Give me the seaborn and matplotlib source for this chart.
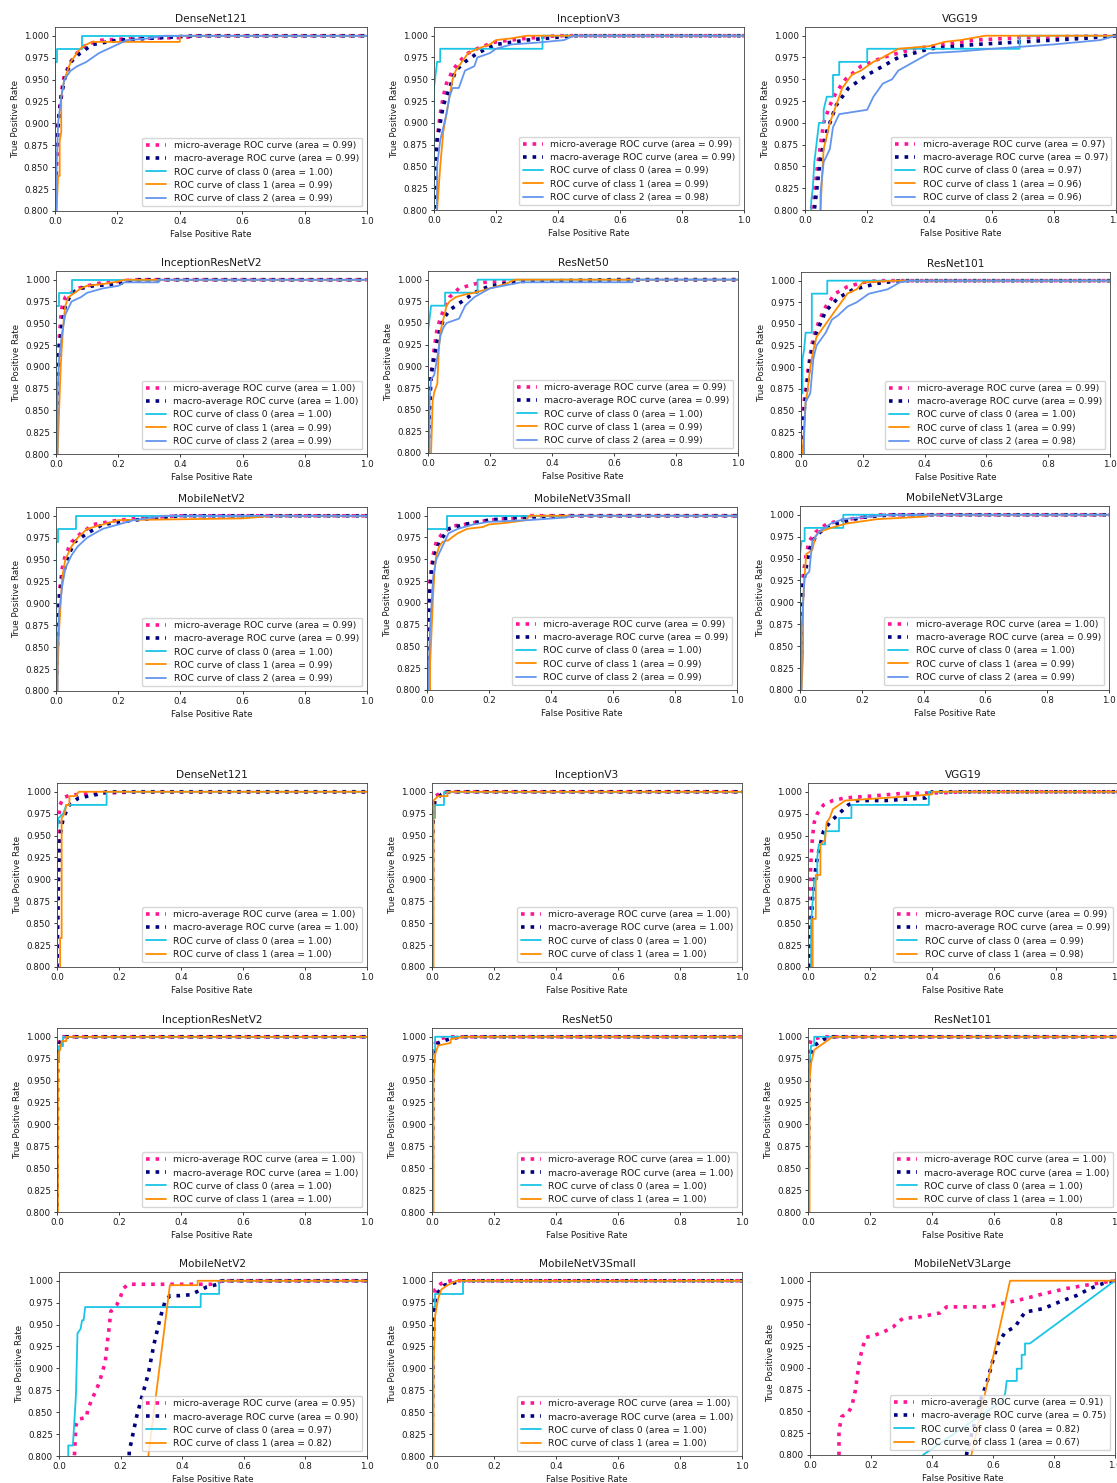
import numpy as np
import pandas as pd
import seaborn as sns
import matplotlib.pyplot as plt

# model names, same order for the 3-class block (top) and 2-class block (bottom)
titles = ["DenseNet121", "InceptionV3", "VGG19",
          "InceptionResNetV2", "ResNet50", "ResNet101",
          "MobileNetV2", "MobileNetV3Small", "MobileNetV3Large"]

# ---- 3-class models: (fpr, tpr) vertices ----
densenet121_3 = {
    "micro": [(0, 0), (0, 0.8), (0.005, 0.85), (0.01, 0.9), (0.02, 0.935), (0.03, 0.955), (0.05, 0.97), (0.07, 0.98), (0.1, 0.99), (0.15, 0.995), (0.25, 0.997), (0.42, 0.998), (0.45, 1.0), (1, 1)],
    "macro": [(0, 0), (0, 0.8), (0.005, 0.87), (0.01, 0.9), (0.02, 0.93), (0.03, 0.95), (0.05, 0.97), (0.08, 0.98), (0.12, 0.99), (0.2, 0.995), (0.4, 0.999), (0.45, 1.0), (1, 1)],
    "c0": [(0, 0), (0, 0.97), (0.005, 0.97), (0.005, 0.985), (0.085, 0.985), (0.085, 1.0), (1, 1)],
    "c1": [(0.005, 0), (0.005, 0.8), (0.01, 0.84), (0.015, 0.84), (0.015, 0.88), (0.02, 0.89), (0.02, 0.93), (0.03, 0.95), (0.04, 0.96), (0.05, 0.97), (0.06, 0.975), (0.07, 0.98), (0.08, 0.985), (0.1, 0.99), (0.12, 0.993), (0.4, 0.993), (0.4, 1.0), (1, 1)],
    "c2": [(0, 0), (0.005, 0.85), (0.01, 0.9), (0.02, 0.93), (0.03, 0.95), (0.05, 0.96), (0.07, 0.965), (0.1, 0.97), (0.12, 0.975), (0.14, 0.98), (0.17, 0.985), (0.2, 0.99), (0.23, 0.995), (0.3, 0.997), (0.35, 1.0), (1, 1)],
}
inceptionv3_3 = {
    "micro": [(0, 0), (0, 0.8), (0.005, 0.85), (0.01, 0.88), (0.02, 0.91), (0.03, 0.93), (0.04, 0.945), (0.06, 0.96), (0.08, 0.97), (0.11, 0.98), (0.15, 0.987), (0.2, 0.993), (0.3, 0.997), (0.4, 1.0), (1, 1)],
    "macro": [(0, 0), (0, 0.8), (0.005, 0.85), (0.01, 0.88), (0.02, 0.9), (0.03, 0.92), (0.05, 0.94), (0.07, 0.96), (0.1, 0.97), (0.14, 0.98), (0.2, 0.99), (0.3, 0.995), (0.45, 1.0), (1, 1)],
    "c0": [(0, 0), (0, 0.94), (0.005, 0.955), (0.01, 0.97), (0.02, 0.97), (0.02, 0.985), (0.35, 0.985), (0.35, 1.0), (1, 1)],
    "c1": [(0.01, 0), (0.01, 0.8), (0.02, 0.85), (0.025, 0.87), (0.03, 0.89), (0.04, 0.91), (0.05, 0.93), (0.06, 0.95), (0.07, 0.96), (0.09, 0.97), (0.11, 0.98), (0.14, 0.985), (0.18, 0.99), (0.2, 0.995), (0.25, 0.997), (0.3, 1.0), (1, 1)],
    "c2": [(0.005, 0), (0.01, 0.85), (0.02, 0.88), (0.04, 0.91), (0.05, 0.93), (0.06, 0.94), (0.08, 0.94), (0.09, 0.95), (0.1, 0.96), (0.13, 0.965), (0.14, 0.975), (0.18, 0.98), (0.2, 0.985), (0.25, 0.99), (0.33, 0.992), (0.42, 0.995), (0.45, 1.0), (1, 1)],
}
vgg19_3 = {
    "micro": [(0.02, 0), (0.02, 0.8), (0.03, 0.82), (0.04, 0.85), (0.05, 0.875), (0.06, 0.9), (0.08, 0.92), (0.1, 0.935), (0.13, 0.95), (0.18, 0.965), (0.25, 0.975), (0.35, 0.985), (0.45, 0.99), (0.55, 0.995), (0.7, 0.998), (0.85, 0.999), (1, 1)],
    "macro": [(0.03, 0), (0.03, 0.8), (0.04, 0.83), (0.05, 0.86), (0.07, 0.89), (0.1, 0.92), (0.14, 0.94), (0.2, 0.955), (0.25, 0.965), (0.3, 0.975), (0.4, 0.985), (0.55, 0.99), (0.7, 0.993), (0.9, 0.997), (1, 1)],
    "c0": [(0.02, 0), (0.02, 0.81), (0.025, 0.825), (0.03, 0.855), (0.035, 0.87), (0.04, 0.885), (0.045, 0.9), (0.06, 0.9), (0.06, 0.915), (0.07, 0.93), (0.09, 0.93), (0.09, 0.955), (0.11, 0.955), (0.11, 0.97), (0.2, 0.97), (0.2, 0.985), (0.69, 0.985), (0.69, 1.0), (1, 1)],
    "c1": [(0.05, 0), (0.05, 0.8), (0.055, 0.84), (0.06, 0.87), (0.08, 0.9), (0.1, 0.92), (0.12, 0.94), (0.15, 0.955), (0.18, 0.96), (0.22, 0.97), (0.25, 0.975), (0.3, 0.985), (0.4, 0.988), (0.45, 0.993), (0.5, 0.995), (0.58, 1.0), (1, 1)],
    "c2": [(0.04, 0), (0.05, 0.82), (0.06, 0.855), (0.08, 0.87), (0.09, 0.895), (0.11, 0.91), (0.2, 0.915), (0.22, 0.93), (0.25, 0.945), (0.28, 0.95), (0.3, 0.96), (0.35, 0.97), (0.4, 0.98), (0.5, 0.982), (0.6, 0.985), (0.8, 0.99), (0.95, 0.995), (1, 1)],
}
inceptionresnetv2_3 = {
    "micro": [(0, 0), (0, 0.8), (0.005, 0.9), (0.01, 0.93), (0.015, 0.955), (0.02, 0.97), (0.03, 0.98), (0.05, 0.985), (0.07, 0.99), (0.1, 0.993), (0.14, 0.996), (0.2, 0.998), (0.25, 1.0), (1, 1)],
    "macro": [(0, 0), (0, 0.8), (0.005, 0.89), (0.01, 0.92), (0.02, 0.95), (0.03, 0.97), (0.05, 0.985), (0.08, 0.99), (0.12, 0.993), (0.2, 0.995), (0.25, 1.0), (1, 1)],
    "c0": [(0, 0), (0, 0.97), (0.01, 0.97), (0.01, 0.985), (0.05, 0.985), (0.05, 1.0), (1, 1)],
    "c1": [(0.005, 0), (0.005, 0.8), (0.01, 0.85), (0.015, 0.9), (0.02, 0.93), (0.025, 0.955), (0.03, 0.97), (0.04, 0.98), (0.06, 0.985), (0.08, 0.99), (0.1, 0.993), (0.15, 0.995), (0.2, 0.998), (0.22, 1.0), (1, 1)],
    "c2": [(0, 0), (0.005, 0.87), (0.01, 0.91), (0.02, 0.94), (0.03, 0.96), (0.05, 0.975), (0.08, 0.98), (0.1, 0.985), (0.15, 0.99), (0.2, 0.993), (0.22, 0.997), (0.33, 0.997), (0.33, 1.0), (1, 1)],
}
resnet50_3 = {
    "micro": [(0, 0), (0, 0.8), (0.005, 0.86), (0.01, 0.89), (0.02, 0.92), (0.03, 0.945), (0.05, 0.965), (0.07, 0.98), (0.1, 0.99), (0.15, 0.995), (0.2, 0.998), (0.57, 0.999), (0.6, 1.0), (1, 1)],
    "macro": [(0, 0), (0, 0.8), (0.005, 0.85), (0.01, 0.89), (0.02, 0.91), (0.03, 0.93), (0.05, 0.955), (0.07, 0.965), (0.11, 0.975), (0.15, 0.985), (0.2, 0.993), (0.3, 0.998), (0.6, 1.0), (1, 1)],
    "c0": [(0, 0), (0, 0.94), (0.005, 0.955), (0.01, 0.97), (0.055, 0.97), (0.055, 0.985), (0.16, 0.985), (0.16, 1.0), (1, 1)],
    "c1": [(0.01, 0), (0.01, 0.8), (0.015, 0.86), (0.02, 0.87), (0.03, 0.88), (0.035, 0.92), (0.04, 0.94), (0.05, 0.955), (0.06, 0.97), (0.07, 0.975), (0.09, 0.98), (0.12, 0.983), (0.15, 0.985), (0.2, 0.99), (0.25, 0.995), (0.28, 1.0), (1, 1)],
    "c2": [(0, 0), (0.005, 0.86), (0.01, 0.885), (0.02, 0.89), (0.03, 0.91), (0.04, 0.935), (0.05, 0.945), (0.06, 0.95), (0.1, 0.955), (0.12, 0.97), (0.15, 0.98), (0.2, 0.99), (0.3, 0.997), (0.66, 0.997), (0.66, 1.0), (1, 1)],
}
resnet101_3 = {
    "micro": [(0, 0), (0, 0.8), (0.005, 0.83), (0.01, 0.86), (0.02, 0.89), (0.03, 0.915), (0.04, 0.935), (0.06, 0.955), (0.08, 0.97), (0.11, 0.985), (0.15, 0.993), (0.2, 0.998), (0.25, 1.0), (1, 1)],
    "macro": [(0, 0), (0, 0.8), (0.005, 0.83), (0.01, 0.85), (0.02, 0.88), (0.03, 0.91), (0.05, 0.94), (0.08, 0.965), (0.12, 0.98), (0.17, 0.99), (0.25, 0.997), (0.32, 1.0), (1, 1)],
    "c0": [(0, 0), (0, 0.87), (0.005, 0.87), (0.005, 0.91), (0.01, 0.92), (0.015, 0.94), (0.035, 0.94), (0.035, 0.985), (0.085, 0.985), (0.085, 1.0), (1, 1)],
    "c1": [(0.005, 0), (0.005, 0.8), (0.01, 0.83), (0.015, 0.86), (0.02, 0.87), (0.03, 0.9), (0.04, 0.92), (0.05, 0.935), (0.08, 0.95), (0.1, 0.96), (0.13, 0.975), (0.15, 0.985), (0.18, 0.99), (0.2, 0.998), (0.3, 1.0), (1, 1)],
    "c2": [(0.005, 0), (0.01, 0.82), (0.015, 0.86), (0.03, 0.87), (0.04, 0.91), (0.05, 0.925), (0.08, 0.94), (0.1, 0.955), (0.12, 0.96), (0.15, 0.97), (0.18, 0.975), (0.22, 0.985), (0.28, 0.99), (0.32, 0.998), (0.35, 1.0), (1, 1)],
}
mobilenetv2_3 = {
    "micro": [(0, 0), (0, 0.8), (0.005, 0.87), (0.01, 0.91), (0.02, 0.94), (0.03, 0.955), (0.05, 0.97), (0.08, 0.98), (0.12, 0.99), (0.2, 0.995), (0.3, 0.998), (0.4, 1.0), (1, 1)],
    "macro": [(0, 0), (0, 0.8), (0.005, 0.86), (0.01, 0.9), (0.02, 0.93), (0.04, 0.955), (0.06, 0.97), (0.1, 0.98), (0.15, 0.99), (0.25, 0.995), (0.4, 1.0), (1, 1)],
    "c0": [(0, 0), (0, 0.97), (0.005, 0.97), (0.005, 0.985), (0.065, 0.985), (0.065, 1.0), (1, 1)],
    "c1": [(0.005, 0), (0.005, 0.82), (0.01, 0.87), (0.015, 0.9), (0.02, 0.93), (0.03, 0.95), (0.05, 0.965), (0.07, 0.975), (0.1, 0.985), (0.15, 0.99), (0.2, 0.995), (0.6, 0.997), (0.7, 1.0), (1, 1)],
    "c2": [(0, 0), (0.005, 0.85), (0.01, 0.89), (0.02, 0.92), (0.03, 0.94), (0.05, 0.955), (0.07, 0.965), (0.1, 0.975), (0.15, 0.985), (0.2, 0.99), (0.25, 0.995), (0.35, 1.0), (1, 1)],
}
mobilenetv3small_3 = {
    "micro": [(0, 0), (0, 0.8), (0.005, 0.89), (0.01, 0.93), (0.02, 0.955), (0.03, 0.97), (0.05, 0.98), (0.08, 0.988), (0.12, 0.99), (0.2, 0.995), (0.3, 0.998), (0.33, 1.0), (1, 1)],
    "macro": [(0, 0), (0, 0.8), (0.005, 0.88), (0.01, 0.92), (0.02, 0.95), (0.04, 0.97), (0.07, 0.985), (0.12, 0.99), (0.2, 0.995), (0.3, 0.998), (0.45, 1.0), (1, 1)],
    "c0": [(0, 0), (0, 0.985), (0.065, 0.985), (0.065, 1.0), (1, 1)],
    "c1": [(0.01, 0), (0.01, 0.83), (0.015, 0.87), (0.02, 0.91), (0.025, 0.94), (0.03, 0.955), (0.04, 0.965), (0.05, 0.97), (0.07, 0.972), (0.08, 0.975), (0.1, 0.98), (0.13, 0.985), (0.18, 0.987), (0.2, 0.99), (0.26, 0.992), (0.32, 0.995), (0.33, 1.0), (1, 1)],
    "c2": [(0.005, 0), (0.005, 0.82), (0.01, 0.87), (0.02, 0.93), (0.03, 0.95), (0.05, 0.965), (0.07, 0.98), (0.1, 0.985), (0.15, 0.99), (0.2, 0.993), (0.33, 0.995), (0.45, 0.998), (0.46, 1.0), (1, 1)],
}
mobilenetv3large_3 = {
    "micro": [(0, 0), (0, 0.8), (0.005, 0.9), (0.01, 0.93), (0.02, 0.955), (0.03, 0.97), (0.05, 0.98), (0.08, 0.988), (0.12, 0.993), (0.2, 0.997), (0.25, 1.0), (1, 1)],
    "macro": [(0, 0), (0, 0.8), (0.005, 0.88), (0.01, 0.92), (0.02, 0.94), (0.03, 0.96), (0.05, 0.975), (0.08, 0.985), (0.12, 0.99), (0.2, 0.997), (0.3, 1.0), (1, 1)],
    "c0": [(0, 0), (0, 0.955), (0.005, 0.97), (0.015, 0.97), (0.015, 0.985), (0.14, 0.985), (0.14, 1.0), (1, 1)],
    "c1": [(0.005, 0), (0.005, 0.8), (0.01, 0.84), (0.01, 0.9), (0.015, 0.93), (0.02, 0.955), (0.04, 0.96), (0.05, 0.975), (0.06, 0.98), (0.1, 0.985), (0.15, 0.99), (0.25, 0.995), (0.41, 0.998), (0.41, 1.0), (1, 1)],
    "c2": [(0, 0), (0.005, 0.87), (0.01, 0.9), (0.015, 0.93), (0.03, 0.935), (0.04, 0.97), (0.06, 0.98), (0.1, 0.99), (0.14, 0.995), (0.2, 0.997), (0.3, 1.0), (1, 1)],
}

# ---- 2-class models ----
densenet121_2 = {
    "micro": [(0, 0), (0, 0.8), (0.002, 0.9), (0.005, 0.97), (0.01, 0.985), (0.02, 0.993), (0.04, 0.996), (0.1, 0.998), (0.2, 0.999), (0.25, 1.0), (1, 1)],
    "macro": [(0, 0), (0, 0.8), (0.005, 0.9), (0.01, 0.95), (0.02, 0.97), (0.04, 0.985), (0.07, 0.993), (0.13, 0.997), (0.16, 1.0), (1, 1)],
    "c0": [(0, 0), (0, 0.955), (0.005, 0.97), (0.02, 0.975), (0.03, 0.985), (0.16, 0.985), (0.16, 1.0), (1, 1)],
    "c1": [(0.01, 0), (0.01, 0.833), (0.015, 0.833), (0.015, 0.97), (0.025, 0.975), (0.03, 0.985), (0.04, 0.985), (0.04, 0.995), (0.06, 0.995), (0.07, 1.0), (1, 1)],
}
inceptionv3_2 = {
    "micro": [(0, 0), (0, 0.8), (0.002, 0.97), (0.005, 0.99), (0.01, 0.995), (0.03, 0.999), (0.05, 1.0), (1, 1)],
    "macro": [(0, 0), (0, 0.8), (0.002, 0.95), (0.005, 0.98), (0.01, 0.99), (0.03, 0.997), (0.05, 1.0), (1, 1)],
    "c0": [(0, 0), (0, 0.97), (0.01, 0.97), (0.01, 0.985), (0.04, 0.985), (0.04, 1.0), (1, 1)],
    "c1": [(0.005, 0), (0.005, 0.99), (0.02, 0.995), (0.05, 0.995), (0.05, 1.0), (1, 1)],
}
vgg19_2 = {
    "micro": [(0, 0), (0, 0.8), (0.003, 0.88), (0.007, 0.9), (0.01, 0.925), (0.015, 0.95), (0.02, 0.965), (0.03, 0.975), (0.05, 0.985), (0.08, 0.99), (0.12, 0.993), (0.2, 0.995), (0.3, 0.998), (0.45, 0.999), (0.5, 1.0), (1, 1)],
    "macro": [(0.005, 0), (0.005, 0.8), (0.01, 0.85), (0.015, 0.88), (0.02, 0.9), (0.03, 0.925), (0.04, 0.94), (0.05, 0.955), (0.07, 0.965), (0.1, 0.975), (0.13, 0.985), (0.16, 0.99), (0.25, 0.99), (0.38, 0.993), (0.4, 1.0), (1, 1)],
    "c0": [(0.01, 0), (0.01, 0.85), (0.02, 0.9), (0.03, 0.9), (0.03, 0.925), (0.035, 0.94), (0.055, 0.94), (0.055, 0.955), (0.1, 0.955), (0.1, 0.97), (0.14, 0.97), (0.14, 0.985), (0.39, 0.985), (0.39, 1.0), (1, 1)],
    "c1": [(0.015, 0), (0.015, 0.855), (0.025, 0.855), (0.025, 0.905), (0.04, 0.905), (0.04, 0.94), (0.055, 0.945), (0.06, 0.965), (0.07, 0.97), (0.08, 0.98), (0.1, 0.985), (0.12, 0.99), (0.25, 0.993), (0.33, 0.995), (0.4, 0.997), (0.4, 1.0), (1, 1)],
}
inceptionresnetv2_2 = {
    "micro": [(0, 0), (0, 0.8), (0.001, 0.99), (0.005, 0.997), (0.02, 1.0), (1, 1)],
    "macro": [(0, 0), (0, 0.8), (0.002, 0.98), (0.005, 0.99), (0.015, 0.997), (0.03, 1.0), (1, 1)],
    "c0": [(0, 0), (0, 0.975), (0.005, 0.975), (0.005, 0.99), (0.02, 0.99), (0.02, 1.0), (1, 1)],
    "c1": [(0.003, 0), (0.003, 0.98), (0.01, 0.985), (0.015, 0.995), (0.03, 0.995), (0.03, 1.0), (1, 1)],
}
resnet50_2 = {
    "micro": [(0, 0), (0, 0.8), (0.002, 0.97), (0.005, 0.99), (0.02, 0.997), (0.05, 1.0), (1, 1)],
    "macro": [(0, 0), (0, 0.8), (0.003, 0.96), (0.008, 0.985), (0.02, 0.993), (0.06, 0.998), (0.1, 1.0), (1, 1)],
    "c0": [(0, 0), (0, 0.97), (0.005, 0.985), (0.01, 0.985), (0.01, 1.0), (1, 1)],
    "c1": [(0.005, 0), (0.005, 0.95), (0.01, 0.98), (0.02, 0.99), (0.06, 0.993), (0.06, 0.997), (0.1, 1.0), (1, 1)],
}
resnet101_2 = {
    "micro": [(0, 0), (0, 0.8), (0.002, 0.97), (0.005, 0.99), (0.01, 0.997), (0.05, 1.0), (1, 1)],
    "macro": [(0, 0), (0, 0.8), (0.003, 0.96), (0.008, 0.98), (0.02, 0.99), (0.05, 0.997), (0.08, 1.0), (1, 1)],
    "c0": [(0, 0), (0, 0.93), (0.005, 0.97), (0.01, 0.99), (0.02, 0.99), (0.02, 1.0), (1, 1)],
    "c1": [(0.005, 0), (0.005, 0.95), (0.01, 0.97), (0.02, 0.985), (0.04, 0.99), (0.06, 0.995), (0.08, 1.0), (1, 1)],
}
mobilenetv2_2 = {
    "micro": [(0.05, 0), (0.05, 0.8), (0.055, 0.835), (0.063, 0.842), (0.089, 0.844), (0.094, 0.854), (0.12, 0.875), (0.13, 0.883), (0.15, 0.907), (0.156, 0.927), (0.163, 0.947), (0.168, 0.965), (0.187, 0.972), (0.2, 0.982), (0.208, 0.991), (0.225, 0.996), (0.5, 0.996), (0.53, 1.0), (1, 1)],
    "macro": [(0.22, 0), (0.228, 0.805), (0.252, 0.845), (0.268, 0.866), (0.29, 0.894), (0.308, 0.927), (0.328, 0.957), (0.344, 0.976), (0.36, 0.983), (0.393, 0.983), (0.425, 0.984), (0.458, 0.989), (0.48, 0.993), (0.517, 0.996), (0.528, 1.0), (1, 1)],
    "c0": [(0.03, 0), (0.03, 0.812), (0.045, 0.812), (0.05, 0.84), (0.055, 0.87), (0.06, 0.94), (0.07, 0.945), (0.075, 0.955), (0.08, 0.955), (0.085, 0.97), (0.46, 0.97), (0.46, 0.985), (0.52, 0.985), (0.52, 1.0), (1, 1)],
    "c1": [(0.28, 0.772), (0.36, 0.995), (0.45, 0.995), (0.45, 1.0), (1, 1)],
}
mobilenetv3small_2 = {
    "micro": [(0, 0), (0, 0.8), (0.002, 0.93), (0.005, 0.97), (0.01, 0.99), (0.03, 0.997), (0.06, 1.0), (1, 1)],
    "macro": [(0, 0), (0, 0.8), (0.003, 0.92), (0.008, 0.97), (0.015, 0.985), (0.04, 0.995), (0.1, 1.0), (1, 1)],
    "c0": [(0, 0), (0, 0.97), (0.01, 0.97), (0.01, 0.985), (0.1, 0.985), (0.1, 1.0), (1, 1)],
    "c1": [(0.005, 0), (0.005, 0.9), (0.01, 0.96), (0.02, 0.98), (0.03, 0.99), (0.05, 0.995), (0.08, 1.0), (1, 1)],
}
mobilenetv3large_2 = {
    "micro": [(0.095, 0), (0.095, 0.806), (0.095, 0.828), (0.104, 0.844), (0.126, 0.849), (0.137, 0.856), (0.148, 0.873), (0.155, 0.89), (0.162, 0.909), (0.175, 0.926), (0.184, 0.935), (0.208, 0.937), (0.24, 0.941), (0.273, 0.947), (0.29, 0.953), (0.306, 0.957), (0.35, 0.958), (0.383, 0.96), (0.426, 0.963), (0.448, 0.97), (0.59, 0.97), (0.634, 0.974), (0.7, 0.979), (0.765, 0.985), (0.84, 0.991), (0.907, 0.995), (0.96, 0.998), (1, 1)],
    "macro": [(0.5, 0.75), (0.514, 0.802), (0.557, 0.861), (0.579, 0.882), (0.6, 0.909), (0.617, 0.928), (0.64, 0.941), (0.672, 0.947), (0.705, 0.964), (0.765, 0.968), (0.82, 0.976), (0.874, 0.983), (0.918, 0.991), (0.962, 0.997), (1, 1)],
    "c0": [(0.37, 0), (0.37, 0.8), (0.63, 0.862), (0.64, 0.871), (0.645, 0.885), (0.678, 0.885), (0.678, 0.899), (0.694, 0.899), (0.694, 0.915), (0.705, 0.915), (0.705, 0.928), (0.721, 0.928), (1, 1)],
    "c1": [(0.51, 0.77), (0.656, 1.0), (1, 1)],
}

# legend areas, in the order micro, macro, class 0, class 1, class 2
areas_3 = [
    [0.99, 0.99, 1.00, 0.99, 0.99],
    [0.99, 0.99, 0.99, 0.99, 0.98],
    [0.97, 0.97, 0.97, 0.96, 0.96],
    [1.00, 1.00, 1.00, 0.99, 0.99],
    [0.99, 0.99, 1.00, 0.99, 0.99],
    [0.99, 0.99, 1.00, 0.99, 0.98],
    [0.99, 0.99, 1.00, 0.99, 0.99],
    [0.99, 0.99, 1.00, 0.99, 0.99],
    [1.00, 0.99, 1.00, 0.99, 0.99],
]
areas_2 = [
    [1.00, 1.00, 1.00, 1.00],
    [1.00, 1.00, 1.00, 1.00],
    [0.99, 0.99, 0.99, 0.98],
    [1.00, 1.00, 1.00, 1.00],
    [1.00, 1.00, 1.00, 1.00],
    [1.00, 1.00, 1.00, 1.00],
    [0.95, 0.90, 0.97, 0.82],
    [1.00, 1.00, 1.00, 1.00],
    [0.91, 0.75, 0.82, 0.67],
]

curves_3 = [densenet121_3, inceptionv3_3, vgg19_3, inceptionresnetv2_3, resnet50_3,
            resnet101_3, mobilenetv2_3, mobilenetv3small_3, mobilenetv3large_3]
curves_2 = [densenet121_2, inceptionv3_2, vgg19_2, inceptionresnetv2_2, resnet50_2,
            resnet101_2, mobilenetv2_2, mobilenetv3small_2, mobilenetv3large_2]

# axes boxes in pixels (left, top, right, bottom) on the 1117x1483 canvas
boxes = [
    (55, 27, 367, 211), (434, 27, 744, 210), (805, 27, 1116, 210),
    (56, 271, 367, 454), (428, 271, 738, 453), (801, 272, 1110, 454),
    (56, 507, 367, 691), (427, 507, 737, 690), (800, 506, 1109, 690),
    (57, 783, 367, 967), (432, 783, 742, 967), (808, 783, 1118, 967),
    (57, 1028, 367, 1212), (432, 1028, 742, 1212), (808, 1028, 1118, 1212),
    (59, 1272, 367, 1456), (432, 1272, 742, 1456), (810, 1272, 1115, 1455),
]

styles = {
    "micro": dict(color="deeppink", lw=2.6, linestyle=":", label="micro-average ROC curve (area = {:.2f})"),
    "macro": dict(color="navy", lw=2.6, linestyle=":", label="macro-average ROC curve (area = {:.2f})"),
    "c0": dict(color="#19c5e6", lw=1.3, linestyle="-", label="ROC curve of class 0 (area = {:.2f})"),
    "c1": dict(color="darkorange", lw=1.3, linestyle="-", label="ROC curve of class 1 (area = {:.2f})"),
    "c2": dict(color="cornflowerblue", lw=1.3, linestyle="-", label="ROC curve of class 2 (area = {:.2f})"),
}

sns.set_theme(style="ticks", rc={
    "font.size": 6.3, "axes.titlesize": 7.6, "axes.labelsize": 6.3,
    "xtick.labelsize": 6.3, "ytick.labelsize": 6.3, "legend.fontsize": 6.6,
    "axes.linewidth": 0.6, "axes.edgecolor": "0.25",
    "xtick.major.size": 2.2, "ytick.major.size": 2.2,
    "xtick.major.width": 0.6, "ytick.major.width": 0.6,
    "xtick.major.pad": 2.2, "ytick.major.pad": 2.2,
    "axes.titlepad": 3.8, "axes.labelpad": 2.5,
    "text.color": "0.1", "axes.labelcolor": "0.1",
    "xtick.color": "0.1", "ytick.color": "0.1",
})
plt.rcParams["font.family"] = ["DejaVu Sans"]

W, H = 1117, 1483
fig = plt.figure(figsize=(W / 100, H / 100), dpi=100)


def draw_panel(ax, title, curves, areas):
    keys = [k for k in ["micro", "macro", "c0", "c1", "c2"] if k in curves]
    for key, area in zip(keys, areas):
        df = pd.DataFrame(curves[key], columns=["fpr", "tpr"])
        st = dict(styles[key])
        lbl = st.pop("label").format(area)
        sns.lineplot(data=df, x="fpr", y="tpr", ax=ax, estimator=None, sort=False,
                     label=lbl, **st)
    ax.set_xlim(0.0, 1.0)
    ax.set_ylim(0.8, 1.01)
    ax.set_xticks(np.arange(0, 1.01, 0.2))
    ax.set_yticks(np.arange(0.8, 1.001, 0.025))
    ax.set_yticklabels([f"{v:.3f}" for v in np.arange(0.8, 1.001, 0.025)])
    ax.set_xlabel("False Positive Rate")
    ax.set_ylabel("True Positive Rate")
    ax.set_title(title)
    ax.legend(loc="lower right", handlelength=2.2, borderpad=0.4, labelspacing=0.45)


panels = list(zip(titles, curves_3, areas_3)) + list(zip(titles, curves_2, areas_2))
for (title, curves, areas), (l, t, r, b) in zip(panels, boxes):
    ax = fig.add_axes([l / W, 1 - b / H, (r - l) / W, (b - t) / H])
    draw_panel(ax, title, curves, areas)

fig.savefig("out.png", dpi=100)
